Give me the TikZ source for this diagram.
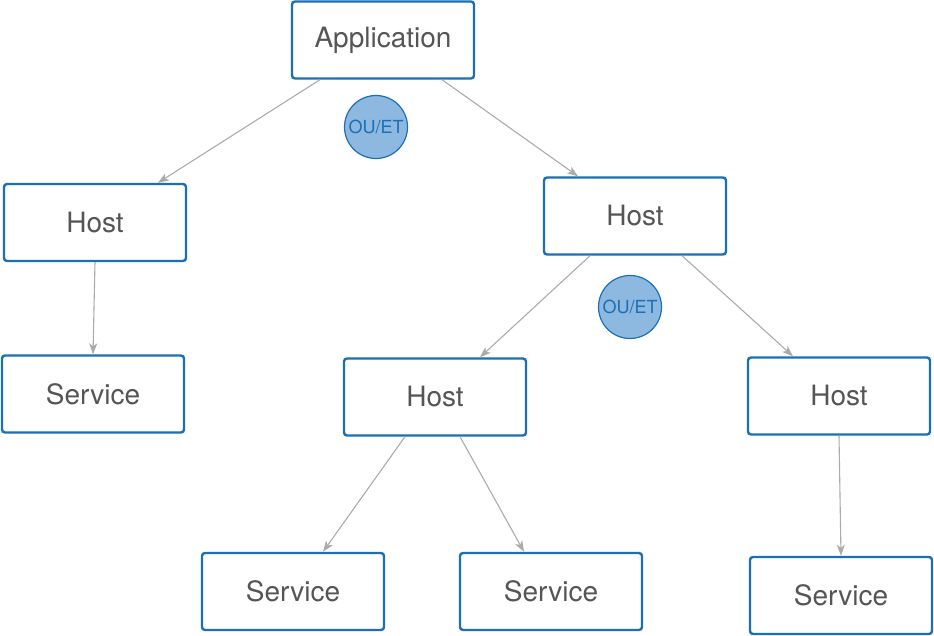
\documentclass[tikz,border=0pt]{standalone}
\usepackage{fontspec}
\setmainfont{TeX Gyre Heros}
\usetikzlibrary{positioning,arrows.meta}
\definecolor{boxblue}{HTML}{1A6FB5}
\definecolor{ringfill}{HTML}{8DB8DF}
\definecolor{labelgray}{HTML}{555555}
\definecolor{linkgray}{HTML}{ABABAB}

\begin{document}
\begin{tikzpicture}[
  x=1pt, y=-1pt,
  font=\fontsize{28}{32}\selectfont,
  box/.style={rectangle, rounded corners=3pt, draw=boxblue, line width=2.4pt, fill=white,
              minimum width=182pt, minimum height=77pt, inner sep=0pt, text=labelgray},
  ring/.style={circle, draw=boxblue, line width=1.2pt, fill=ringfill, minimum size=63pt,
               inner sep=0pt, text=boxblue, font=\fontsize{18}{20}\selectfont},
  arr/.style={-{Stealth[length=11pt, width=8pt, inset=3pt]}, draw=linkgray, line width=1.1pt}
]
\useasboundingbox (0,0) rectangle (934,636);

\node[box] (app) at (383, 40) {Application};
\node[box] (hleft) at (95, 222.5) {Host};
\node[box] (sleft) at (93, 394) {Service};
\node[box] (hright) at (635, 216) {Host};
\node[box] (hmid) at (435, 397) {Host};
\node[box] (hfar) at (839, 396) {Host};
\node[box] (s1) at (293, 591.5) {Service};
\node[box] (s2) at (551, 591.5) {Service};
\node[box] (s3) at (841, 595.5) {Service};

\node[ring] (oe1) at (376, 127) {OU/ET};
\node[ring] (oe2) at (630, 307) {OU/ET};

\draw[arr] ([xshift=-63]app.south) -- ([xshift=63]hleft.north);
\draw[arr] ([xshift=59]app.south) -- ([xshift=-57]hright.north);
\draw[arr] (hleft.south) -- (sleft.north);
\draw[arr] ([xshift=-45]hright.south) -- ([xshift=45]hmid.north);
\draw[arr] ([xshift=47]hright.south) -- ([xshift=-46]hfar.north);
\draw[arr] ([xshift=-30]hmid.south) -- ([xshift=30]s1.north);
\draw[arr] ([xshift=25]hmid.south) -- ([xshift=-27]s2.north);
\draw[arr] (hfar.south) -- (s3.north);
\end{tikzpicture}
\end{document}
